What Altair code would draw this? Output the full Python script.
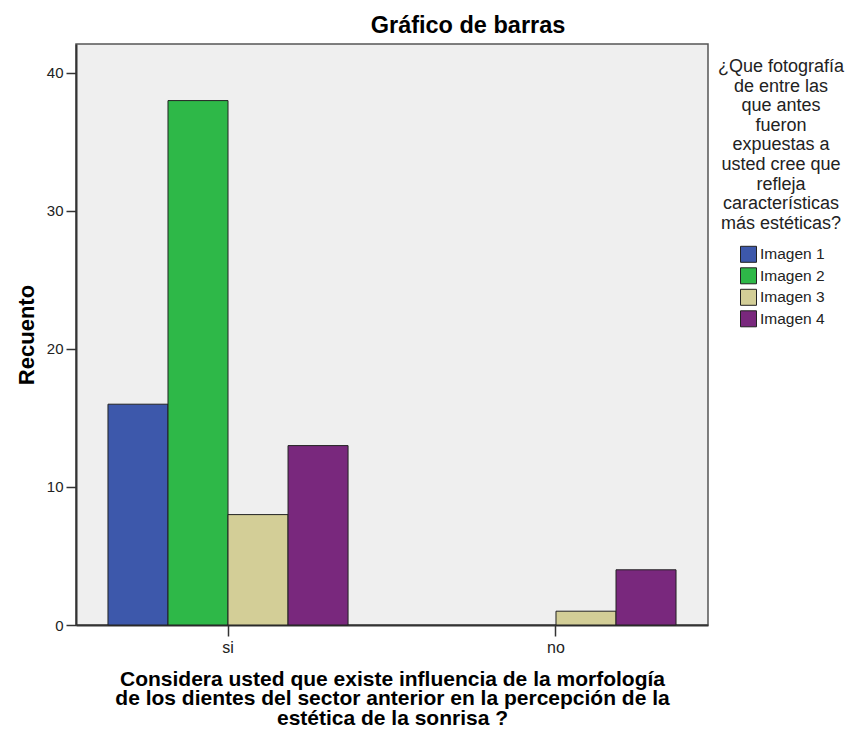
import altair as alt
import pandas as pd

categories = ["si", "no"]
images = ["Imagen 1", "Imagen 2", "Imagen 3", "Imagen 4"]
counts_si = [16, 38, 8, 13]
counts_no = [0, 0, 1, 4]
colors = ["#3D58AB", "#2EB848", "#D3CE97", "#79287D"]

legend_title = ["¿Que fotografía", "de entre las", "que antes", "fueron",
                "expuestas a", "usted cree que", "refleja",
                "características", "más estéticas?"]
x_title = ["Considera usted que existe influencia de la morfología",
           "de los dientes del sector anterior en la percepción de la",
           "estética de la sonrisa ?"]
y_ticks = [0, 10, 20, 30, 40]

rows = []
for cat, vals in zip(categories, [counts_si, counts_no]):
    for img, v in zip(images, vals):
        rows.append({"cat": cat, "img": img, "n": v})
df = pd.DataFrame(rows)

FONT = "Liberation Sans"

chart = alt.Chart(df).transform_filter(
    alt.datum.n > 0
).mark_bar(stroke="#222222", strokeWidth=1).encode(
    x=alt.X("cat:N", sort=categories,
            scale=alt.Scale(domain=categories, paddingInner=0.268,
                            paddingOuter=0.0975),
            axis=alt.Axis(title=x_title, labelAngle=0, labelFontSize=16,
                          labelColor="#222222", labelPadding=3,
                          tickSize=11, tickWidth=1.5, tickColor="#333333",
                          domainColor="#333333", domainWidth=2,
                          titleFontSize=21, titleFontWeight="bold",
                          titleLineHeight=19.5, titlePadding=13,
                          titleColor="black")),
    xOffset=alt.XOffset("img:N", sort=images,
                        scale=alt.Scale(domain=images, paddingInner=0,
                                        paddingOuter=0)),
    y=alt.Y("n:Q", scale=alt.Scale(domain=[0, 42.1], nice=False, zero=True),
            axis=alt.Axis(values=y_ticks, grid=False, title="Recuento",
                          labelFontSize=15, labelColor="#222222",
                          labelPadding=3, tickSize=10, tickWidth=1.5,
                          tickColor="#333333", domainColor="#333333",
                          domainWidth=2, titleFontSize=22,
                          titleFontWeight="bold", titlePadding=8,
                          titleColor="black")),
    color=alt.Color("img:N", sort=images,
                    scale=alt.Scale(domain=images, range=colors),
                    legend=alt.Legend(title=legend_title, orient="none",
                                      legendX=642, legendY=14,
                                      titleFontSize=18, titleFontWeight="normal",
                                      titleLineHeight=19.6, titleAnchor="middle",
                                      titleAlign="center", titleColor="#222222",
                                      titlePadding=13,
                                      symbolType="square", symbolSize=256,
                                      symbolStrokeColor="#222222",
                                      symbolStrokeWidth=1, symbolOpacity=1,
                                      symbolOffset=3, labelOffset=3,
                                      labelFontSize=15.5, labelColor="#222222",
                                      rowPadding=0.5)),
).properties(
    width=632, height=581,
    title=alt.Title("Gráfico de barras", fontSize=23.5, fontWeight="bold",
                    font=FONT, color="black", anchor="middle", dx=76,
                    offset=7),
    autosize=alt.AutoSizeParams(type="none"),
    padding={"left": 68, "top": 36, "right": 138, "bottom": 102},
).configure(
    font=FONT,
).configure_view(
    fill="#EFEFEF", stroke="#555555", strokeWidth=1.5,
)

chart.save("out.html", embed_options={"renderer": "svg", "actions": False})
